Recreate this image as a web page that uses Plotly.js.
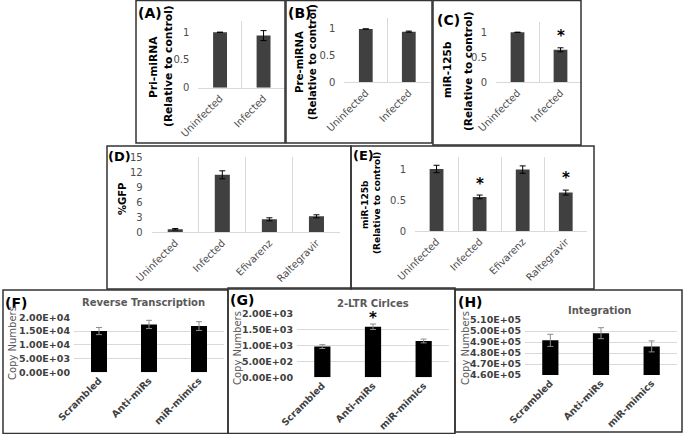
<!DOCTYPE html>
<html>
<head>
<meta charset="utf-8">
<script src="https://cdn.plot.ly/plotly-3.0.1.min.js"></script>
<style>
  html, body { margin: 0; padding: 0; background: #fff; }
  #graph-container { width: 683px; height: 434px; }
</style>
</head>
<body>
<div id="graph-container"></div>
<script>
// categories
let infectionCats = ['Uninfected', 'Infected'];
let drugCats = ['Uninfected', 'Infected', 'Efivarenz', 'Raltegravir'];
let miRCats = ['Scrambled', 'Anti-miRs', 'miR-mimics'];

// (A) (B) (C) relative to control
let priMiRNA = [1.0, 0.94];
let priMiRNAErr = [0, 0.09];
let preMiRNA = [1.0, 0.95];
let preMiRNAErr = [0, 0.01];
let miR125bInf = [1.0, 0.65];
let miR125bInfErr = [0, 0.04];

// (D) %GFP and (E) miR-125b with drugs
let gfp = [0.6, 11.5, 2.6, 3.2];
let gfpErr = [0.15, 0.8, 0.3, 0.3];
let miR125bDrug = [1.0, 0.55, 0.99, 0.62];
let miR125bDrugErr = [0.06, 0.03, 0.06, 0.04];

// (F) (G) (H) copy numbers
let rtCopies = [15000, 17400, 16800];
let rtErr = [1300, 1500, 1600];
let ltrCopies = [960, 1580, 1135];
let ltrErr = [60, 85, 60];
let intCopies = [491500, 498000, 486000];
let intErr = [5500, 5000, 5000];

// tick values
let relTicks = [0, 0.5, 1];
let gfpTicks = [0, 3, 6, 9, 12, 15];
let rtTicks = [0, 5000, 10000, 15000, 20000];
let ltrTicks = [0, 500, 1000, 1500, 2000];
let intTicks = [460000, 470000, 480000, 490000, 500000, 510000];

const W = 683, H = 434;
const FONT = 'DejaVu Sans';
const GRID = '#d9d9d9';

// pixel -> paper helpers
function xd(l, r) { return [l / W, r / W]; }
function yd(t, b) { return [1 - b / H, 1 - t / H]; }
function px(x) { return x / W; }
function py(y) { return 1 - y / H; }

// 20000 -> "2.00E+04"
function sci(v) {
    return v.toExponential(2).toUpperCase().replace(/E([+-])(\d)$/, 'E$10$2');
}

var data = [];
var layout = {
    width: W,
    height: H,
    margin: { l: 0, r: 0, t: 0, b: 0 },
    paper_bgcolor: '#fff',
    plot_bgcolor: 'rgba(0,0,0,0)',
    showlegend: false,
    font: { family: FONT, size: 10, color: '#595959' },
    shapes: [],
    annotations: []
};

function addBar(n, cats, vals, errs, color, errColor) {
    var s = n === 1 ? '' : n;
    data.push({
        type: 'bar',
        x: cats,
        y: vals,
        width: 0.32,
        marker: { color: color },
        error_y: { type: 'data', array: errs, visible: true, color: errColor, thickness: 1, width: 3 },
        xaxis: 'x' + s,
        yaxis: 'y' + s,
        hoverinfo: 'x+y'
    });
}

// top style panels (Excel-like, category separators)
function topPanel(n, cats, vals, errs, xdom, ydom, range, ticks) {
    var s = n === 1 ? '' : n;
    addBar(n, cats, vals, errs, '#404040', '#000');
    layout['xaxis' + s] = {
        domain: xdom, anchor: 'y' + s, type: 'category',
        tickson: 'boundaries', showgrid: true, gridcolor: GRID,
        showline: true, linecolor: GRID, ticks: '', tickangle: -45,
        tickfont: { family: FONT, size: 10, color: '#4d4d4d' }, fixedrange: true
    };
    layout['yaxis' + s] = {
        domain: ydom, anchor: 'x' + s, range: range, tickvals: ticks,
        showgrid: false, zeroline: false, showline: false, ticks: '',
        ticklabelstandoff: 8,
        tickfont: { family: FONT, size: 10, color: '#4d4d4d' }, fixedrange: true
    };
}

// bottom style panels (horizontal gridlines, black bars)
function copyPanel(n, cats, vals, errs, xdom, ydom, range, ticks) {
    var s = n === 1 ? '' : n;
    addBar(n, cats, vals, errs, '#000', '#8c8c8c');
    layout['xaxis' + s] = {
        domain: xdom, anchor: 'y' + s, type: 'category',
        showgrid: false, showline: false, ticks: '', tickangle: -45,
        tickfont: { family: FONT, size: 9.5, color: '#404040', weight: 'bold' }, fixedrange: true
    };
    layout['yaxis' + s] = {
        domain: ydom, anchor: 'x' + s, range: range, tickvals: ticks,
        ticktext: ticks.map(sci),
        showgrid: true, gridcolor: GRID, zeroline: false, showline: false, ticks: '',
        ticklabelstandoff: 3,
        tickfont: { family: FONT, size: 9.5, color: '#404040', weight: 'bold' }, fixedrange: true
    };
}

topPanel(1, infectionCats, priMiRNA, priMiRNAErr, xd(198.3, 285.3), yd(21.2, 87.7), [0, 1.2], relTicks);
topPanel(2, infectionCats, preMiRNA, preMiRNAErr, xd(344.3, 430.3), yd(18.3, 82.3), [0, 1.2], relTicks);
topPanel(3, infectionCats, miR125bInf, miR125bInfErr, xd(496, 582), yd(22.3, 82.3), [0, 1.2], relTicks);
topPanel(4, drugCats, gfp, gfpErr, xd(151.7, 340), yd(157.3, 232.3), [0, 15], gfpTicks);
topPanel(5, drugCats, miR125bDrug, miR125bDrugErr, xd(415, 587.3), yd(156.6, 231), [0, 1.2], relTicks);
copyPanel(6, miRCats, rtCopies, rtErr, xd(74, 224), yd(317.3, 372.3), [0, 20000], rtTicks);
copyPanel(7, miRCats, ltrCopies, ltrErr, xd(297, 449), yd(313.3, 377.3), [0, 2000], ltrTicks);
copyPanel(8, miRCats, intCopies, intErr, xd(525, 677), yd(320, 375), [460000, 510000], intTicks);

// panel frames
var frames = [
    [136, 0.5, 285, 143], [286, 0.5, 432, 143], [433, 0.5, 581, 145],
    [107, 146, 351, 289], [351, 146, 594, 289],
    [3, 290, 228, 433.5], [228, 288, 455, 433.5], [455, 290, 682, 432]
];
frames.forEach(function (f) {
    layout.shapes.push({
        type: 'rect', xref: 'paper', yref: 'paper',
        x0: px(f[0]), y0: py(f[3]), x1: px(f[2]), y1: py(f[1]),
        line: { color: '#333', width: 1.5 }
    });
});

function note(text, x, y, opts) {
    var a = Object.assign({
        text: text, xref: 'paper', yref: 'paper', x: px(x), y: py(y),
        xanchor: 'center', yanchor: 'middle', showarrow: false,
        font: { family: FONT, size: 10, color: '#000' }
    }, opts || {});
    layout.annotations.push(a);
}

// panel letters
function letter(size) {
    return { font: { family: FONT, size: size, color: '#000', weight: 'bold' }, xanchor: 'left' };
}
note('(A)', 136, 13, letter(14));
note('(B)', 286, 13, letter(14));
note('(C)', 435, 20, letter(14));
note('(D)', 106, 157, letter(13));
note('(E)', 351, 155, letter(13));
note('(F)', 3, 303, letter(14));
note('(G)', 228, 300, letter(14));
note('(H)', 456, 302, letter(14));

// y titles of the relative panels
function ytitle(size) {
    return { textangle: -90, font: { family: FONT, size: size, color: '#000', weight: 'bold' } };
}
note('Pri-miRNA', 153, 67, ytitle(10.7));
note('(Relative to control)', 168, 66, ytitle(10.7));
note('Pre-miRNA', 300, 62, ytitle(10.2));
note('(Relative to control)', 313, 62, ytitle(10.2));
note('miR-125b', 447, 70, ytitle(10.5));
note('(Relative to control)', 468, 71, ytitle(10.5));
note('%GFP', 122, 199, ytitle(10));
note('miR-125b', 365, 205, ytitle(9));
note('(Relative to control)', 377, 203, ytitle(9));

// copy number panels: titles and y titles
var ctitle = { font: { family: FONT, size: 10, color: '#595959', weight: 'bold' } };
note('Reverse Transcription', 143, 302, ctitle);
note('2-LTR Cirlces', 373, 303, ctitle);
note('Integration', 599, 310, ctitle);
var cy = { textangle: -90, font: { family: FONT, size: 10, color: '#595959' } };
note('Copy Numbers', 12, 343, cy);
note('Copy Numbers', 237, 348, cy);
note('Copy Numbers', 465, 348, cy);

// significance stars, placed on the data axes
function star(s, cat, yv) {
    layout.annotations.push({
        text: '*', xref: 'x' + s, yref: 'y' + s, x: cat, y: yv,
        showarrow: false, yanchor: 'middle',
        font: { family: FONT, size: 15, color: '#000', weight: 'bold' }
    });
}
star(3, 'Infected', 0.93);
star(5, 'Infected', 0.75);
star(5, 'Raltegravir', 0.86);
star(7, 'Anti-miRs', 1840);

Plotly.newPlot('graph-container', data, layout, { staticPlot: true });
</script>
</body>
</html>
